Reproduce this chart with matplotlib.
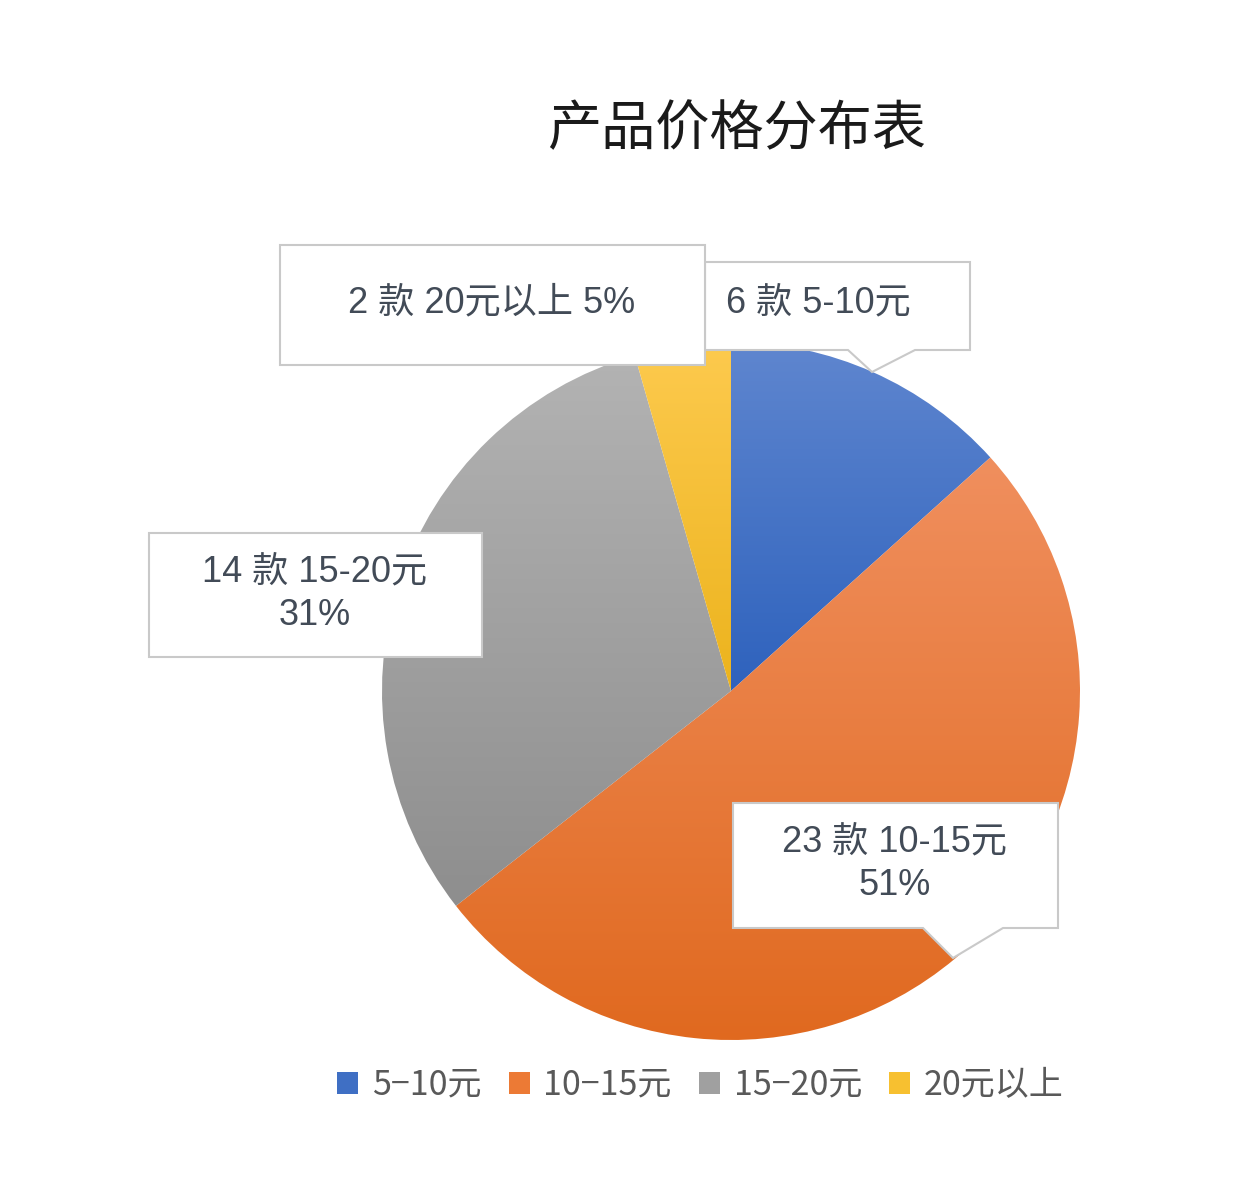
import numpy as np
import matplotlib
matplotlib.use("Agg")
import matplotlib.pyplot as plt
from matplotlib.colors import LinearSegmentedColormap
from matplotlib.patches import Polygon, Rectangle

plt.rcParams["font.family"] = ["Noto Sans CJK SC", "DejaVu Sans"]
LABEL_FONT = ["Liberation Sans", "Noto Sans CJK SC", "DejaVu Sans"]

# data
categories = ["5-10元", "10-15元", "15-20元", "20元以上"]
legend_labels = ["5−10元", "10−15元", "15−20元", "20元以上"]
counts = [6, 23, 14, 2]
callout_texts = ["6 款 5-10元", "23 款 10-15元\n51%", "14 款 15-20元\n31%", "2 款 20元以上 5%"]

# gradient (top, bottom) per slice
top_colors = ["#5f86cf", "#f08f5e", "#b3b3b3", "#fdca4e"]
bottom_colors = ["#2e62bd", "#e0691f", "#8e8e8e", "#ecb31d"]
solid_colors = ["#3f6fc4", "#ec7a35", "#a0a0a0", "#f7c030"]

W, H = 1240, 1186
fig = plt.figure(figsize=(W / 100, H / 100), dpi=100)

# pie axes: center (731, 691) px, radius 349 px
cx, cy, r = 731, 691, 349
ax = fig.add_axes([(cx - r) / W, (H - cy - r) / H, 2 * r / W, 2 * r / H])
wedges, _ = ax.pie(counts, startangle=90, counterclock=False, radius=1,
                   wedgeprops=dict(linewidth=0))
grad = np.linspace(0, 1, 256).reshape(-1, 1)
for w, ct, cb in zip(wedges, top_colors, bottom_colors):
    verts = w.get_path().vertices
    y0, y1 = verts[:, 1].min(), verts[:, 1].max()
    cmap = LinearSegmentedColormap.from_list("g", [cb, ct])
    w.set_facecolor("none")
    im = ax.imshow(grad, extent=(-1.05, 1.05, y0, y1), origin="lower",
                   cmap=cmap, aspect="auto", interpolation="bilinear")
    im.set_clip_path(w)
ax.set_xlim(-1, 1)
ax.set_ylim(-1, 1)
ax.set_aspect("equal")
ax.axis("off")

# overlay in pixel coordinates for title, callouts
ov = fig.add_axes([0, 0, 1, 1], zorder=5)
ov.set_xlim(0, W)
ov.set_ylim(H, 0)
ov.axis("off")
ov.patch.set_alpha(0)

ov.text(737, 130, "产品价格分布表", ha="center", va="center",
        fontsize=39, color="#1a1a1a", fontweight="medium")

text_color = "#424b57"
edge = "#c9c9c9"


def callout(x0, y0, x1, y1, text, tx, ty, pointer=None):
    pts = [(x0, y0), (x1, y0), (x1, y1)]
    if pointer:
        pa, tip, pb = pointer
        pts += [(pb, y1), tip, (pa, y1)]
    pts += [(x0, y1)]
    ov.add_patch(Polygon(pts, closed=True, facecolor="white", edgecolor=edge,
                         linewidth=1.5, joinstyle="miter"))
    ov.text(tx, ty, text, ha="center", va="center", fontsize=26,
            color=text_color, linespacing=1.3, family=LABEL_FONT)


# order matters: 5-10 box sits under the 20元以上 box
callout(705, 262, 970, 350, callout_texts[0], 818, 303,
        pointer=(848, (872, 372), 915))
callout(280, 245, 705, 365, callout_texts[3], 492, 303)
callout(149, 533, 482, 657, callout_texts[2], 315, 594)
callout(733, 803, 1058, 928, callout_texts[1], 895, 864,
        pointer=(923, (953, 958), 1003))

# legend
handles = [Rectangle((0, 0), 1, 1, facecolor=c, edgecolor="none") for c in solid_colors]
fig.legend(handles, legend_labels, loc="center", bbox_to_anchor=(0.565, 0.085),
           ncol=4, frameon=False, fontsize=24.5, labelcolor="#595959",
           handlelength=0.62, handleheight=0.62, handletextpad=0.4,
           columnspacing=0.8)

fig.savefig("out.png", dpi=100, facecolor="white")
